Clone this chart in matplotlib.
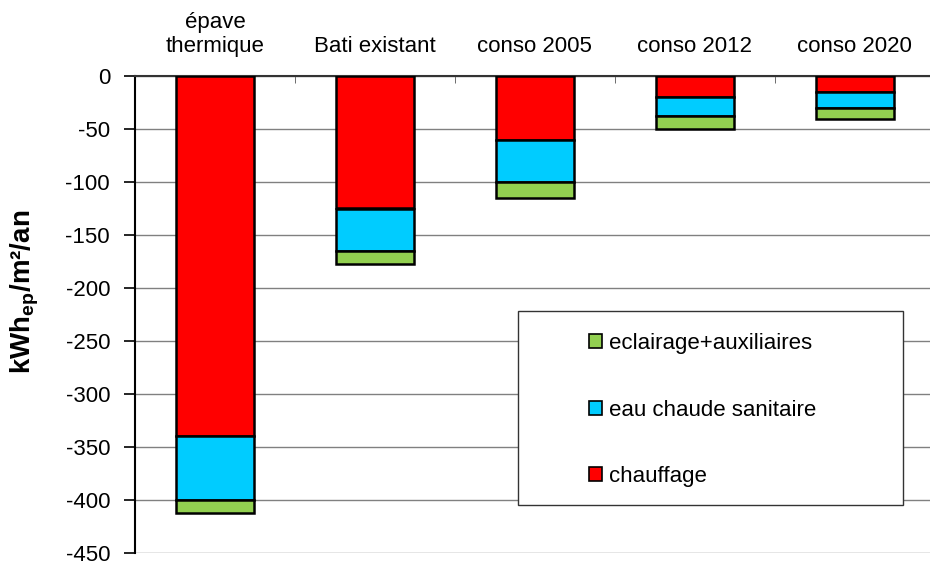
import matplotlib
matplotlib.use("Agg")
import matplotlib.pyplot as plt
import numpy as np
from matplotlib.patches import Patch, Rectangle

plt.rcParams['font.family'] = ['Liberation Sans', 'DejaVu Sans']
plt.rcParams['mathtext.fontset'] = 'custom'
plt.rcParams['mathtext.rm'] = 'Liberation Sans'
plt.rcParams['mathtext.bf'] = 'Liberation Sans:bold'

categories = ["épave\nthermique", "Bati existant", "conso 2005", "conso 2012", "conso 2020"]
chauffage = [-340, -125, -60, -20, -15]
eau_chaude = [-60, -40, -40, -18, -15]
eclairage = [-12, -12, -15, -12, -11]
yticks = [0, -50, -100, -150, -200, -250, -300, -350, -400, -450]

c_red = "#FF0000"
c_cyan = "#00CCFF"
c_green = "#92D050"
FS = 16

fig = plt.figure(figsize=(9.3, 5.66), dpi=100)
ax = fig.add_axes([135/930, 1-553/566, 1-135/930, (553-76)/566])

x = np.arange(len(categories))
w = 0.49
ch = np.array(chauffage)
ec = np.array(eau_chaude)
el = np.array(eclairage)
ax.bar(x, ch, width=w, color=c_red, edgecolor='black', linewidth=1.8, zorder=3)
ax.bar(x, ec, width=w, bottom=ch, color=c_cyan, edgecolor='black', linewidth=1.8, zorder=3)
ax.bar(x, el, width=w, bottom=ch+ec, color=c_green, edgecolor='black', linewidth=1.8, zorder=3)

ax.set_ylim(-450, 0)
ax.set_xlim(-0.5, 4.47)
ax.set_yticks(yticks)
ax.set_yticklabels([str(v) for v in yticks], fontsize=FS)
ax.yaxis.grid(True, color='#808080', linewidth=1.0, zorder=0)
ax.set_axisbelow(True)

ax.xaxis.tick_top()
ax.set_xticks(x)
ax.set_xticklabels(categories, fontsize=FS, linespacing=1.15)
ax.tick_params(axis='x', which='major', length=0, pad=14)
ax.set_xticks(np.arange(0.5, 4.5, 1), minor=True)
ax.tick_params(axis='x', which='minor', direction='in', length=5, top=True, bottom=False, color='#555555')
ax.tick_params(axis='y', direction='out', length=8, width=1.2, pad=10)

for s in ['right', 'bottom']:
    ax.spines[s].set_visible(False)
ax.spines['left'].set_linewidth(1.5)
ax.spines['left'].set_color('black')
ax.spines['top'].set_linewidth(1.5)
ax.spines['top'].set_color('#333333')

fig.text(25/930, 1-292/566, r'kWh$_{\mathbf{ep}}$/m²/an', rotation=90,
         fontsize=20, fontweight='bold', ha='center', va='center')

# legend box
fig.patches.append(Rectangle((518/930, 1-505/566), (903-518)/930, (505-311)/566,
                             transform=fig.transFigure, facecolor='white',
                             edgecolor='#333333', linewidth=1.0, zorder=5))
handles = [Patch(facecolor=c_green, edgecolor='black', linewidth=1.2),
           Patch(facecolor=c_cyan, edgecolor='black', linewidth=1.2),
           Patch(facecolor=c_red, edgecolor='black', linewidth=1.2)]
labels = ["eclairage+auxiliaires", "eau chaude sanitaire", "chauffage"]
leg = fig.legend(handles, labels, loc='center left',
                 bbox_to_anchor=(589/930, 1-410/566),
                 fontsize=FS, frameon=False, borderpad=0,
                 labelspacing=2.05, handlelength=0.58, handleheight=0.58,
                 handletextpad=0.3, borderaxespad=0)
leg.set_zorder(6)
fig.savefig("out.png", dpi=100)
